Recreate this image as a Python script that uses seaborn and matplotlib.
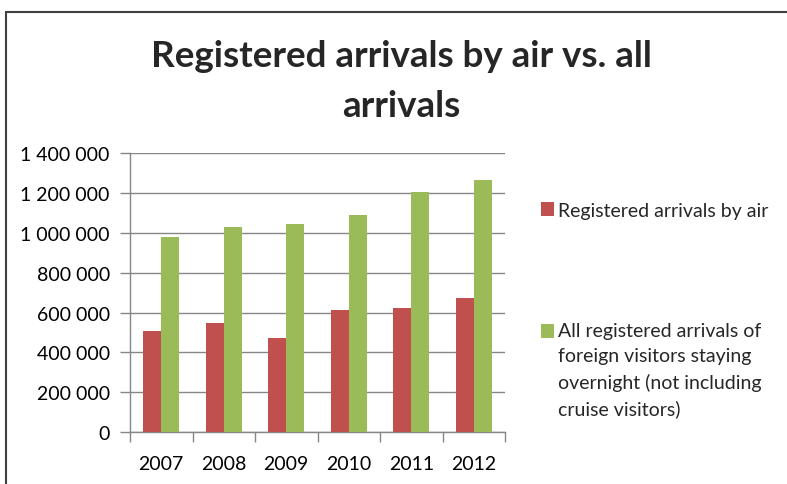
import numpy as np
import pandas as pd
import matplotlib
matplotlib.use('Agg')
import matplotlib.pyplot as plt
import seaborn as sns
from matplotlib.patches import Rectangle
from matplotlib.legend_handler import HandlerPatch
from matplotlib.ticker import FuncFormatter

years = ['2007', '2008', '2009', '2010', '2011', '2012']
air_arrivals = [507000, 549000, 474000, 615000, 623000, 672000]
all_arrivals = [980000, 1029000, 1046000, 1088000, 1203000, 1263000]
series_names = ['Registered arrivals by air',
                'All registered arrivals of\nforeign visitors staying\novernight (not including\ncruise visitors)']
y_ticks = [0, 200000, 400000, 600000, 800000, 1000000, 1200000, 1400000]

colors = ['#C0504D', '#9BBB59']  # excel 2007 red / green

df = pd.DataFrame({
    'year': years * 2,
    'value': air_arrivals + all_arrivals,
    'series': [series_names[0]] * len(years) + [series_names[1]] * len(years),
})

sns.set_theme(style='white')
plt.rcParams['font.family'] = ['Lato', 'DejaVu Sans']

fig = plt.figure(figsize=(7.87, 4.85), dpi=100)
ax = fig.add_axes([0.1652, 0.1066, 0.4765, 0.5759])

sns.barplot(data=df, x='year', y='value', hue='series', palette=colors,
            width=0.58, saturation=1, linewidth=0, ax=ax, zorder=3)

# axes look
ax.set_ylim(0, 1400000)
ax.set_xlim(-0.5, 5.5)
ax.set_yticks(y_ticks)
ax.yaxis.set_major_formatter(FuncFormatter(lambda v, p: f'{v:,.0f}'.replace(',', ' ')))
ax.set_xticks(np.arange(-0.5, 6, 1))
ax.set_xticklabels([''] * 7)
ax.set_xticks(range(6), minor=True)
ax.set_xticklabels(years, minor=True)
ax.tick_params(axis='x', which='major', direction='out', length=7, color='#868686', width=1, bottom=True)
ax.tick_params(axis='x', which='minor', length=0, pad=16, labelsize=14, labelcolor='black')
ax.tick_params(axis='y', direction='out', length=7, color='#868686', width=1, left=True,
               labelsize=14, labelcolor='black', pad=7.5)
ax.set_xlabel('')
ax.set_ylabel('')
ax.yaxis.grid(True, color='#868686', lw=1, zorder=0)
for s in ['top', 'right']:
    ax.spines[s].set_visible(False)
for s in ['left', 'bottom']:
    ax.spines[s].set_color('#868686')
    ax.spines[s].set_linewidth(1)


# legend square sits on the first text line, not the middle of the block
def top_square(legend, orig_handle, xdescent, ydescent, width, height, fontsize):
    n_lines = orig_handle.get_label().count('\n')
    shift = n_lines * 0.5 * 26 * 0.72  # half the block, 26 px per line, in points
    return Rectangle((-xdescent, -ydescent + shift), width, height)


handles, labels = ax.get_legend_handles_labels()
ax.get_legend().remove()
for h, l in zip(handles, labels):
    h.set_label(l)
leg = fig.legend(handles, labels, loc='upper left', bbox_to_anchor=(0.6874, 0.5815),
                 frameon=False, fontsize=14, handlelength=0.68, handleheight=0.72,
                 handletextpad=0.2, labelspacing=5.3, borderpad=0, borderaxespad=0,
                 handler_map={h: HandlerPatch(patch_func=top_square) for h in handles})
for t in leg.get_texts():
    t.set_linespacing(1.57)

# title
fig.text(0.510, 0.831, 'Registered arrivals by air vs. all\narrivals', ha='center', va='center',
         fontsize=26.5, fontweight='bold', linespacing=1.63)

# chart frame (runs off the right and bottom edge)
fig.patches.append(Rectangle((6 / 787, -0.1), 1.2, 1.1 - 13 / 485, transform=fig.transFigure,
                             fill=False, edgecolor='#404040', lw=1.5, clip_on=False))

fig.savefig('out.png', dpi=100)
